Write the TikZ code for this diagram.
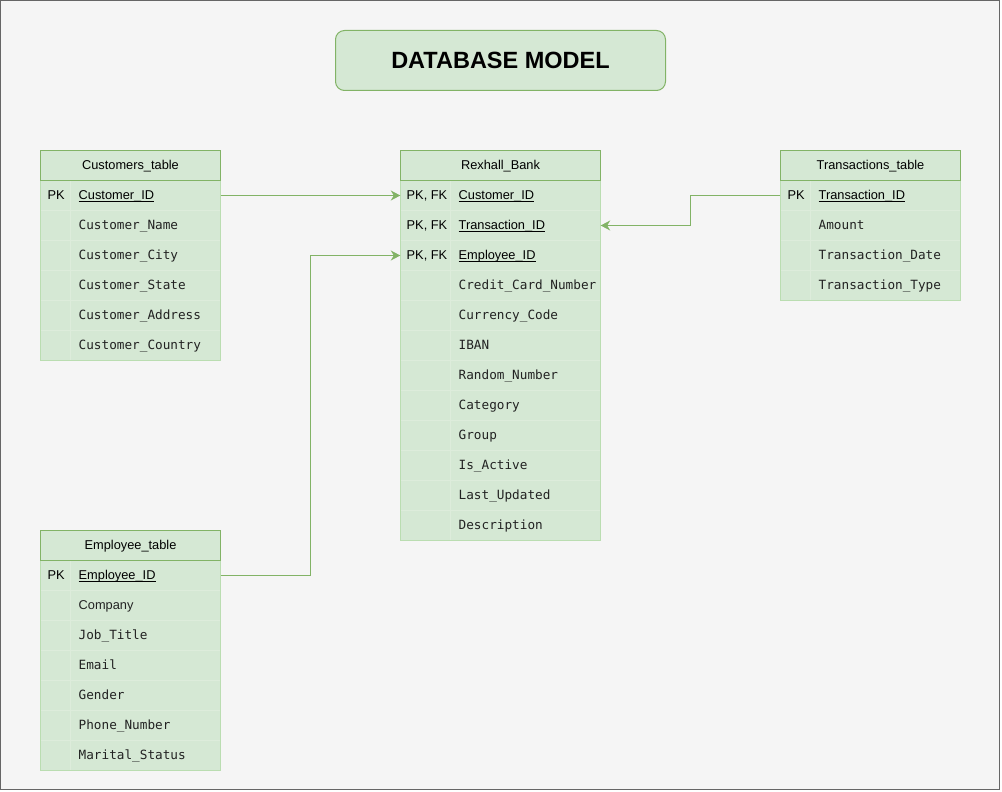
\documentclass[tikz,border=0pt]{standalone}
\usepackage{fontspec}
\setmainfont{Liberation Sans}
\setmonofont{DejaVu Sans Mono}
\usetikzlibrary{arrows.meta}
\definecolor{gfill}{HTML}{D5E8D4}
\definecolor{gedge}{HTML}{82B366}
\definecolor{gbody}{HTML}{BADDB1}
\definecolor{gsep}{HTML}{DDECDB}
\definecolor{bgc}{HTML}{F5F5F5}
\definecolor{framec}{HTML}{666666}
\definecolor{fldc}{HTML}{222222}
\newcommand\keyul[1]{\setbox0\hbox{#1}\rlap{\rule[-2.4pt]{\wd0}{0.9pt}}\box0}
\tikzset{
  hdr/.style={draw=gedge, fill=gfill, line width=1pt, inner sep=0pt, minimum height=30pt},
  hdrtxt/.style={anchor=base, inner sep=0pt, font=\fontsize{12.8}{15}\selectfont},
  tbody/.style={draw=gbody, fill=gfill, line width=1pt},
  sepline/.style={draw=gsep, line width=1pt},
  rowbox/.style={inner sep=0pt, minimum height=30pt},
  keytxt/.style={anchor=base west, inner sep=0pt, yshift=-4.2pt, font=\fontsize{12.8}{15}\selectfont},
  fldtxt/.style={anchor=base west, inner sep=0pt, yshift=-4.1pt, text=fldc, font=\ttfamily\fontsize{12.7}{15}\selectfont},
  conn/.style={draw=gedge, line width=1pt, -{Stealth[length=9.5pt,width=10pt,inset=3pt]}},
  titlebox/.style={draw=gedge, fill=gfill, line width=1pt, rounded corners=9pt,
    minimum width=330pt, minimum height=60pt, inner sep=0pt,
    font=\bfseries\fontsize{23.5}{28}\selectfont}
}
\begin{document}
\begin{tikzpicture}[x=1pt,y=-1pt]
\useasboundingbox (0,0) rectangle (1002,792);
\fill[white] (0,0) rectangle (1002,792);
\draw[framec, fill=bgc, line width=1pt] (0.5,0.5) rectangle (999.5,789.5);

\begin{scope}[shift={(0.5,0.5)}]
% title
\node[titlebox] (title) at (500,60) {DATABASE MODEL};

% ---------- Customers_table ----------
\draw[tbody] (40,180) rectangle (220,360);
\foreach \yy in {210,240,270,300,330} \draw[sepline] (40.5,\yy) -- (219.5,\yy);
\draw[sepline] (70,180.5) -- (70,359.5);
\node[hdr, minimum width=180pt] (custH) at (130,165) {};
\node[hdrtxt] (custHt) at (130,169) {Customers\_table};
\node[rowbox, minimum width=180pt] (custPK) at (130,195) {};
\node[keytxt] (custK1) at (47,195) {PK};
\node[keytxt] (custF1) at (78,195) {\keyul{Customer\_ID}};
\node[fldtxt] (custF2) at (78,225) {Customer\_Name};
\node[fldtxt] (custF3) at (78,255) {Customer\_City};
\node[fldtxt] (custF4) at (78,285) {Customer\_State};
\node[fldtxt] (custF5) at (78,315) {Customer\_Address};
\node[fldtxt] (custF6) at (78,345) {Customer\_Country};

% ---------- Rexhall_Bank ----------
\draw[tbody] (400,180) rectangle (600,540);
\foreach \yy in {210,240,...,510} \draw[sepline] (400.5,\yy) -- (599.5,\yy);
\draw[sepline] (450,180.5) -- (450,539.5);
\node[hdr, minimum width=200pt] (bankH) at (500,165) {};
\node[hdrtxt] (bankHt) at (500,169) {Rexhall\_Bank};
\node[rowbox, minimum width=200pt] (bankC) at (500,195) {};
\node[rowbox, minimum width=200pt] (bankT) at (500,225) {};
\node[rowbox, minimum width=200pt] (bankE) at (500,255) {};
\node[keytxt] (bankK1) at (406,195) {PK, FK};
\node[keytxt] (bankK2) at (406,225) {PK, FK};
\node[keytxt] (bankK3) at (406,255) {PK, FK};
\node[keytxt] (bankF1) at (458,195) {\keyul{Customer\_ID}};
\node[keytxt] (bankF2) at (458,225) {\keyul{Transaction\_ID}};
\node[keytxt] (bankF3) at (458,255) {\keyul{Employee\_ID}};
\node[fldtxt] (bankF4) at (458,285) {Credit\_Card\_Number};
\node[fldtxt] (bankF5) at (458,315) {Currency\_Code};
\node[fldtxt] (bankF6) at (458,345) {IBAN};
\node[fldtxt] (bankF7) at (458,375) {Random\_Number};
\node[fldtxt] (bankF8) at (458,405) {Category};
\node[fldtxt] (bankF9) at (458,435) {Group};
\node[fldtxt] (bankF10) at (458,465) {Is\_Active};
\node[fldtxt] (bankF11) at (458,495) {Last\_Updated};
\node[fldtxt] (bankF12) at (458,525) {Description};

% ---------- Transactions_table ----------
\draw[tbody] (780,180) rectangle (960,300);
\foreach \yy in {210,240,270} \draw[sepline] (780.5,\yy) -- (959.5,\yy);
\draw[sepline] (810,180.5) -- (810,299.5);
\node[hdr, minimum width=180pt] (transH) at (870,165) {};
\node[hdrtxt] (transHt) at (870,169) {Transactions\_table};
\node[rowbox, minimum width=180pt] (transPK) at (870,195) {};
\node[keytxt] (transK1) at (787,195) {PK};
\node[keytxt] (transF1) at (818,195) {\keyul{Transaction\_ID}};
\node[fldtxt] (transF2) at (818,225) {Amount};
\node[fldtxt] (transF3) at (818,255) {Transaction\_Date};
\node[fldtxt] (transF4) at (818,285) {Transaction\_Type};

% ---------- Employee_table ----------
\draw[tbody] (40,560) rectangle (220,770);
\foreach \yy in {590,620,650,680,710,740} \draw[sepline] (40.5,\yy) -- (219.5,\yy);
\draw[sepline] (70,560.5) -- (70,769.5);
\node[hdr, minimum width=180pt] (empH) at (130,545) {};
\node[hdrtxt] (empHt) at (130,549) {Employee\_table};
\node[rowbox, minimum width=180pt] (empPK) at (130,575) {};
\node[keytxt] (empK1) at (47,575) {PK};
\node[keytxt] (empF1) at (78,575) {\keyul{Employee\_ID}};
\node[keytxt, text=fldc] (empF2) at (78,605) {Company};
\node[fldtxt] (empF3) at (78,635) {Job\_Title};
\node[fldtxt] (empF4) at (78,665) {Email};
\node[fldtxt] (empF5) at (78,695) {Gender};
\node[fldtxt] (empF6) at (78,725) {Phone\_Number};
\node[fldtxt] (empF7) at (78,755) {Marital\_Status};

% ---------- connectors ----------
\draw[conn] (custPK.east) -- (bankC.west);
\draw[conn] (transPK.west) -- ++(-90,0) |- (bankT.east);
\draw[conn] (empPK.east) -- ++(90,0) |- (bankE.west);
\end{scope}
\end{tikzpicture}
\end{document}
